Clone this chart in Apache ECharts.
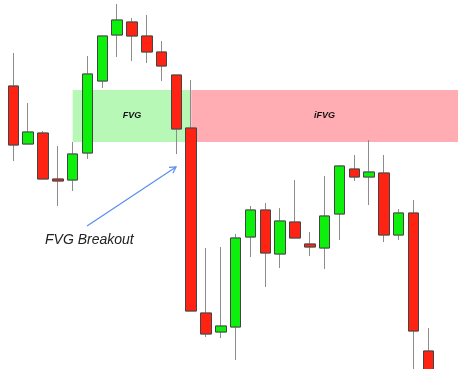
<!DOCTYPE html>
<html><head><meta charset="utf-8">
<script src="https://cdn.jsdelivr.net/npm/echarts@6/dist/echarts.min.js"></script>
<style>html,body{margin:0;padding:0;background:#fff}#c{width:472px;height:369px}</style>
</head><body><div id="c"></div>
<script>
var categories = [];
for (var i = 1; i <= 31; i++) categories.push('C' + i);
var opens  = [283,225,236,190,189,216,288,334,347,333,317,294,241, 56, 37, 42,132,159,115,147,125,121,155,200,192,196,134,156, 18];
var closes = [224,237,190,188,215,295,333,349,333,317,303,240, 58, 35, 43,131,159,116,148,131,122,153,203,192,197,134,156, 38,-20];
var lows   = [208,225,190,163,178,210,281,312,308,306,288,215, 58, 32, 31,  9,112, 82,101,131,113,100,129,188,164,127,129,-20,-20];
var highs  = [316,266,238,223,227,313,333,365,351,354,328,294,289,121,122,135,163,166,161,189,137,193,204,214,229,214,160,169, 41];
var fvgZone  = {from: 'C5', to: 'C13', low: 227, high: 279, label: 'FVG'};
var ifvgZone = {from: 'C13', to: 'C31', low: 227, high: 279, label: 'iFVG'};

var candleData = opens.map(function(o, i){ return [o, closes[i], lows[i], highs[i]]; });
// bodies only (no wick), drawn on top with a darker outline
var bodyData = opens.map(function(o, i){ var c = closes[i]; return [o, c, Math.min(o, c), Math.max(o, c)]; });

var chart = echarts.init(document.getElementById('c'));
var zoneLabel = {show: true, position: 'inside', color: '#111', fontSize: 9, fontWeight: 'bold', fontStyle: 'italic', fontFamily: 'Liberation Sans'};
var GREEN = '#0cf00c', RED = '#ff2313';
chart.setOption({
  animation: false,
  backgroundColor: '#ffffff',
  grid: {left: 6, right: 6.6, top: 0, bottom: 0},
  xAxis: {type: 'category', data: categories, boundaryGap: true, show: false},
  yAxis: {type: 'value', min: 0, max: 369, show: false},
  series: [{
    type: 'candlestick',
    data: candleData,
    barWidth: 11,
    itemStyle: {color: GREEN, color0: RED, borderColor: '#8c8c8c', borderColor0: '#8c8c8c', borderWidth: 1},
    markArea: {
      silent: true,
      data: [
        [{xAxis: fvgZone.from, yAxis: fvgZone.high, name: fvgZone.label, itemStyle: {color: '#b7f8b7'}, label: zoneLabel},
         {xAxis: fvgZone.to, yAxis: fvgZone.low}],
        [{xAxis: ifvgZone.from, yAxis: ifvgZone.high, name: ifvgZone.label, itemStyle: {color: '#ffadb2'}, label: zoneLabel},
         {xAxis: ifvgZone.to, yAxis: ifvgZone.low}]
      ]
    },
    z: 2
  }, {
    type: 'candlestick',
    data: bodyData,
    barWidth: 11,
    itemStyle: {color: GREEN, color0: RED, borderColor: '#444', borderColor0: '#444', borderWidth: 1},
    z: 3
  }]
});

// annotation arrow + text
var x1 = 87, y1 = 226, x2 = 176, y2 = 167;
var dx = x2 - x1, dy = y2 - y1, len = Math.sqrt(dx*dx + dy*dy);
var ux = dx/len, uy = dy/len, hs = 7, ca = Math.cos(Math.PI/6), sa = Math.sin(Math.PI/6);
var h1 = [x2 - hs*(ux*ca - uy*sa), y2 - hs*(uy*ca + ux*sa)];
var h2 = [x2 - hs*(ux*ca + uy*sa), y2 - hs*(uy*ca - ux*sa)];
chart.setOption({
  graphic: [
    {type: 'line', shape: {x1: x1, y1: y1, x2: x2, y2: y2}, style: {stroke: '#5b8cf0', lineWidth: 1.2}, z: 100},
    {type: 'polyline', shape: {points: [h1, [x2, y2], h2]}, style: {stroke: '#5b8cf0', lineWidth: 1.2, fill: null}, z: 100},
    {type: 'text', left: 45, top: 233, style: {text: 'FVG Breakout', fill: '#222', font: 'italic 14px "Liberation Sans"'}, z: 100}
  ]
});
</script></body></html>
